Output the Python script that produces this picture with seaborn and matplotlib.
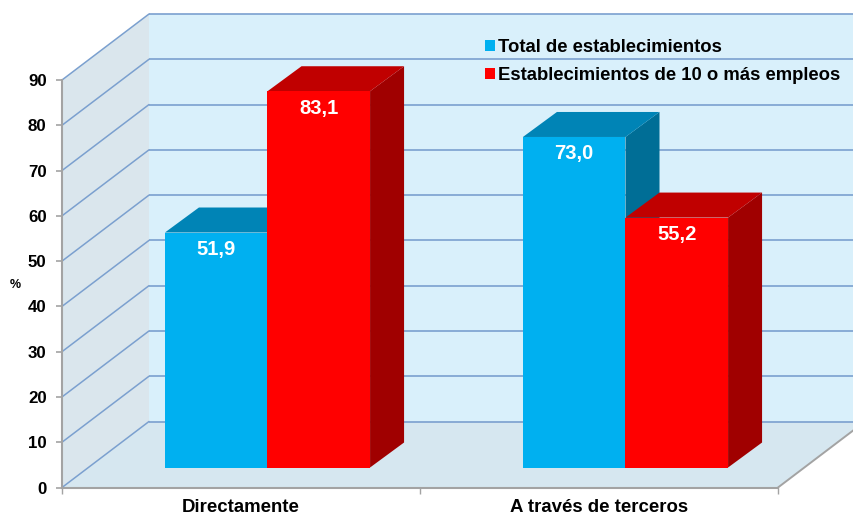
import numpy as np
import pandas as pd
import matplotlib
matplotlib.use("Agg")
import matplotlib.pyplot as plt
from matplotlib.patches import Polygon
from matplotlib.lines import Line2D
from matplotlib.transforms import IdentityTransform
import seaborn as sns

categories = ["Directamente", "A través de terceros"]
series_names = ["Total de establecimientos", "Establecimientos de 10 o más empleos"]
total_values = [51.9, 73.0]
large_values = [83.1, 55.2]
y_ticks = list(range(0, 100, 10))

sns.set_theme(style="white")
plt.rcParams["font.family"] = ["Liberation Sans", "DejaVu Sans"]
plt.rcParams["font.weight"] = "bold"

W, H = 854, 515
fig = plt.figure(figsize=(W / 100, H / 100), dpi=100, facecolor="white")


def make_axes(left, right, bottom_px, top_px, z):
    a = fig.add_axes([left / W, 1 - bottom_px / H, (right - left) / W, (bottom_px - top_px) / H])
    a.set_zorder(z)
    a.patch.set_visible(False)
    a.set_xlim(-0.5, 1.5)
    a.set_ylim(0, 90)
    return a


ax_front = make_axes(62, 778, 487.5, 80, 1)
ax_wall = make_axes(149, 865, 421.5, 14, 0)
ax_bars = make_axes(88.5, 804.5, 467.5, 60, 2)
ax_wall.axis("off")

GRID = "#7BA0CF"
GRAY = "#A3A3A3"
pts = lambda a, x, v: a.transData.transform((x, v))
left_f0, left_f90 = pts(ax_front, -0.5, 0), pts(ax_front, -0.5, 90)
left_b0, left_b90 = pts(ax_wall, -0.5, 0), pts(ax_wall, -0.5, 90)
right_f0 = pts(ax_front, 1.5, 0)
right_b0, right_b90 = pts(ax_wall, 1.5, 0), pts(ax_wall, 1.5, 90)

for vertices, colour in [
    ([left_b0, right_b0, right_b90, left_b90], "#D9F0FB"),
    ([left_f0, left_b0, left_b90, left_f90], "#DAE6ED"),
    ([left_f0, right_f0, right_b0, left_b0], "#D6E7F0"),
]:
    ax_wall.add_patch(Polygon(vertices, closed=True, fc=colour, ec="none",
                              transform=IdentityTransform(), clip_on=False))

ax_wall.hlines(y_ticks, -0.5, 1.5, color=GRID, lw=1.2, clip_on=False)
for v in y_ticks:
    p, q = pts(ax_front, -0.5, v), pts(ax_wall, -0.5, v)
    ax_wall.add_line(Line2D([p[0], q[0]], [p[1], q[1]], color=GRID, lw=1.1,
                            transform=IdentityTransform(), clip_on=False))
ax_wall.add_line(Line2D([right_f0[0], right_b0[0]], [right_f0[1], right_b0[1]], color=GRAY, lw=1.4,
                        transform=IdentityTransform(), clip_on=False))

# front axis: ticks and labels
for s in ["top", "right"]:
    ax_front.spines[s].set_visible(False)
for s in ["left", "bottom"]:
    ax_front.spines[s].set_color(GRAY)
    ax_front.spines[s].set_linewidth(1.5)
ax_front.set_yticks(y_ticks)
ax_front.set_xticks([-0.5, 0.5, 1.5])
ax_front.set_xticklabels([])
ax_front.set_xticks([0, 1], labels=categories, minor=True)
ax_front.tick_params(axis="y", which="major", left=True, length=4, width=1.2, color=GRAY,
                     labelsize=12.2, labelcolor="black", pad=7)
ax_front.tick_params(axis="x", which="major", bottom=True, length=4, width=1, color=GRAY)
ax_front.tick_params(axis="x", which="minor", bottom=False, length=0, labelsize=13.4,
                     labelcolor="black", pad=8)
ax_front.set_ylabel("%", rotation=0, fontsize=9, fontweight="bold", color="black", labelpad=9,
                    va="center", y=0.497)

# bars
df = pd.DataFrame({
    "categoria": categories * 2,
    "serie": [series_names[0]] * 2 + [series_names[1]] * 2,
    "valor": total_values + large_values,
})
sns.barplot(data=df, x="categoria", y="valor", hue="serie", hue_order=series_names,
            palette=["#00B0F0", "#FF0000"], saturation=1, width=0.573, gap=0,
            ax=ax_bars, errorbar=None, zorder=5, linewidth=0, edgecolor="none")
ax_bars.set_xlim(-0.5, 1.5)
ax_bars.set_ylim(0, 90)
ax_bars.axis("off")

DX, DY = 34, 25
shades = [("#0084B6", "#006E96"), ("#C00000", "#A00000")]
for k, (container, (top_c, side_c)) in enumerate(zip(ax_bars.containers, shades)):
    for bar in container:
        x0, x1 = bar.get_x(), bar.get_x() + bar.get_width()
        h = bar.get_height()
        a, b = pts(ax_bars, x0, h), pts(ax_bars, x1, h)
        c = pts(ax_bars, x1, 0)
        off = np.array([DX, DY])
        z = 2 + k
        ax_bars.add_patch(Polygon([b, c, c + off, b + off], closed=True, fc=side_c, ec="none",
                                  transform=IdentityTransform(), clip_on=False, zorder=z))
        ax_bars.add_patch(Polygon([a, b, b + off, a + off], closed=True, fc=top_c, ec="none",
                                  transform=IdentityTransform(), clip_on=False, zorder=z + 0.5))
    ax_bars.bar_label(container, labels=[f"{b.get_height():.1f}".replace(".", ",") for b in container],
                      padding=-19, color="white", fontsize=14.5, fontweight="bold", zorder=8)

sns.move_legend(ax_bars, "upper left", bbox_to_anchor=(485 / W, 1 - 39 / H),
                bbox_transform=fig.transFigure, title=None, frameon=False,
                fontsize=13.3, handlelength=0.55, handleheight=0.55, handletextpad=0.18,
                labelspacing=0.58, borderpad=0, borderaxespad=0)
for t in ax_bars.get_legend().get_texts():
    t.set_color("black")
    t.set_fontweight("bold")

fig.savefig("out.png", dpi=100, facecolor="white")
